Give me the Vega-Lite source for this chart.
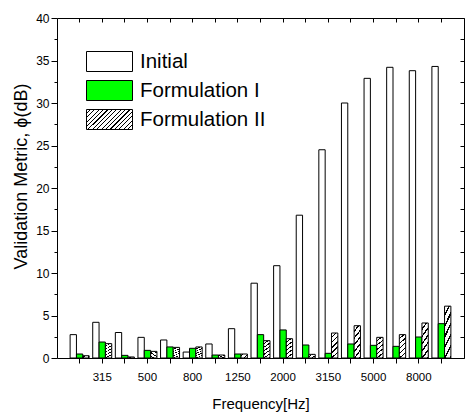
{
  "$schema": "https://vega.github.io/schema/vega-lite/v6.json",
  "autosize": {"type": "none"},
  "padding": {"left": 57, "top": 18, "right": 1, "bottom": 57},
  "width": 407,
  "height": 340,
  "background": "white",
  "config": {
    "view": {"stroke": null},
    "axis": {"grid": false, "domainColor": "black", "tickColor": "black", "labelColor": "black", "titleColor": "black", "labelFont": "Liberation Sans", "titleFont": "Liberation Sans", "titleFontWeight": "normal", "labelFontSize": 12, "titleFontSize": 15, "domainWidth": 1, "tickWidth": 1},
    "legend": {"labelFont": "Liberation Sans", "labelColor": "black", "labelFontSize": 20.5, "labelOffset": 20, "rowPadding": 4, "symbolType": "M-2.3,-1H2.3V1H-2.3Z", "symbolSize": 400, "symbolStrokeColor": "black", "symbolStrokeWidth": 1}
  },
  "data": {"values": [
    {"f": "250", "s": "Initial", "v": 2.75}, {"f": "250", "s": "Formulation I", "v": 0.47}, {"f": "250", "s": "Formulation II", "v": 0.27},
    {"f": "315", "s": "Initial", "v": 4.2}, {"f": "315", "s": "Formulation I", "v": 1.88}, {"f": "315", "s": "Formulation II", "v": 1.69},
    {"f": "400", "s": "Initial", "v": 3.0}, {"f": "400", "s": "Formulation I", "v": 0.31}, {"f": "400", "s": "Formulation II", "v": 0.12},
    {"f": "500", "s": "Initial", "v": 2.43}, {"f": "500", "s": "Formulation I", "v": 0.9}, {"f": "500", "s": "Formulation II", "v": 0.78},
    {"f": "630", "s": "Initial", "v": 2.12}, {"f": "630", "s": "Formulation I", "v": 1.3}, {"f": "630", "s": "Formulation II", "v": 1.25},
    {"f": "800", "s": "Initial", "v": 0.7}, {"f": "800", "s": "Formulation I", "v": 1.14}, {"f": "800", "s": "Formulation II", "v": 1.3},
    {"f": "1000", "s": "Initial", "v": 1.65}, {"f": "1000", "s": "Formulation I", "v": 0.35}, {"f": "1000", "s": "Formulation II", "v": 0.35},
    {"f": "1250", "s": "Initial", "v": 3.45}, {"f": "1250", "s": "Formulation I", "v": 0.47}, {"f": "1250", "s": "Formulation II", "v": 0.47},
    {"f": "1600", "s": "Initial", "v": 8.8}, {"f": "1600", "s": "Formulation I", "v": 2.75}, {"f": "1600", "s": "Formulation II", "v": 2.04},
    {"f": "2000", "s": "Initial", "v": 10.86}, {"f": "2000", "s": "Formulation I", "v": 3.3}, {"f": "2000", "s": "Formulation II", "v": 2.27},
    {"f": "2500", "s": "Initial", "v": 16.8}, {"f": "2500", "s": "Formulation I", "v": 1.53}, {"f": "2500", "s": "Formulation II", "v": 0.43},
    {"f": "3150", "s": "Initial", "v": 24.5}, {"f": "3150", "s": "Formulation I", "v": 0.55}, {"f": "3150", "s": "Formulation II", "v": 2.94},
    {"f": "4000", "s": "Initial", "v": 30.0}, {"f": "4000", "s": "Formulation I", "v": 1.65}, {"f": "4000", "s": "Formulation II", "v": 3.8},
    {"f": "5000", "s": "Initial", "v": 32.9}, {"f": "5000", "s": "Formulation I", "v": 1.49}, {"f": "5000", "s": "Formulation II", "v": 2.43},
    {"f": "6300", "s": "Initial", "v": 34.2}, {"f": "6300", "s": "Formulation I", "v": 1.37}, {"f": "6300", "s": "Formulation II", "v": 2.75},
    {"f": "8000", "s": "Initial", "v": 33.8}, {"f": "8000", "s": "Formulation I", "v": 2.47}, {"f": "8000", "s": "Formulation II", "v": 4.12},
    {"f": "10000", "s": "Initial", "v": 34.3}, {"f": "10000", "s": "Formulation I", "v": 4.04}, {"f": "10000", "s": "Formulation II", "v": 6.1}
  ]},
  "resolve": {"axis": {"x": "independent", "y": "independent"}},
  "layer": [
    {
      "mark": {"type": "bar", "stroke": "black", "strokeWidth": 1},
      "encoding": {
        "x": {"field": "f", "type": "nominal", "scale": {"domain": ["250","315","400","500","630","800","1000","1250","1600","2000","2500","3150","4000","5000","6300","8000","10000"], "paddingInner": 0.16, "paddingOuter": 0.58},
          "axis": {"orient": "bottom", "title": "Frequency[Hz]", "labelAngle": 0, "labelFontSize": 11.5, "tickSize": 5, "labelPadding": 8, "titlePadding": 14, "labelOverlap": false,
            "labelExpr": "indexof(['315','500','800','1250','2000','3150','5000','8000'], datum.value) >= 0 ? datum.label : ''"}},
        "xOffset": {"field": "s", "type": "nominal", "scale": {"domain": ["Initial", "Formulation I", "Formulation II"], "paddingInner": 0, "paddingOuter": 0}},
        "y": {"field": "v", "type": "quantitative", "scale": {"domain": [0, 40], "nice": false, "zero": true},
          "axis": {"orient": "left", "values": [0,5,10,15,20,25,30,35,40], "tickSize": 6, "labelPadding": 2, "title": "Validation Metric, ϕ(dB)", "titleFontSize": 18, "titlePadding": 5, "titleY": 158}},
        "fill": {"field": "s", "type": "nominal",
          "scale": {"domain": ["Initial", "Formulation I", "Formulation II"], "range": ["white", "#00ff00", "#bbbbbb"]},
          "condition": {"test": "datum.s === 'Formulation II'", "value": {"gradient": "linear", "x1": 0, "y1": 0, "x2": 0.294, "y2": 1.176, "stops": [
            {"offset": 0, "color": "white"}, {"offset": 0.1167, "color": "white"}, {"offset": 0.1167, "color": "black"}, {"offset": 0.1667, "color": "black"},
            {"offset": 0.1667, "color": "white"}, {"offset": 0.2833, "color": "white"}, {"offset": 0.2833, "color": "black"}, {"offset": 0.3333, "color": "black"},
            {"offset": 0.3333, "color": "white"}, {"offset": 0.45, "color": "white"}, {"offset": 0.45, "color": "black"}, {"offset": 0.5, "color": "black"},
            {"offset": 0.5, "color": "white"}, {"offset": 0.6167, "color": "white"}, {"offset": 0.6167, "color": "black"}, {"offset": 0.6667, "color": "black"},
            {"offset": 0.6667, "color": "white"}, {"offset": 0.7833, "color": "white"}, {"offset": 0.7833, "color": "black"}, {"offset": 0.8333, "color": "black"},
            {"offset": 0.8333, "color": "white"}, {"offset": 0.95, "color": "white"}, {"offset": 0.95, "color": "black"}, {"offset": 1, "color": "black"}
          ]}},
          "legend": {"orient": "none", "legendX": 42, "legendY": 33, "title": null, "values": ["Initial", "Formulation I"]}
        }
      }
    },
    {
      "transform": [{"filter": "false"}],
      "mark": {"type": "bar", "stroke": "black", "strokeWidth": 1, "fill": {"gradient": "linear", "x1": 0, "y1": 0, "x2": 1.207, "y2": 0.525, "stops": [
                {"offset": 0, "color": "white"}, {"offset": 0.05, "color": "white"}, {"offset": 0.05, "color": "black"}, {"offset": 0.0667, "color": "black"},
                {"offset": 0.0667, "color": "white"}, {"offset": 0.1167, "color": "white"}, {"offset": 0.1167, "color": "black"}, {"offset": 0.1333, "color": "black"},
                {"offset": 0.1333, "color": "white"}, {"offset": 0.1833, "color": "white"}, {"offset": 0.1833, "color": "black"}, {"offset": 0.2, "color": "black"},
                {"offset": 0.2, "color": "white"}, {"offset": 0.25, "color": "white"}, {"offset": 0.25, "color": "black"}, {"offset": 0.2667, "color": "black"},
                {"offset": 0.2667, "color": "white"}, {"offset": 0.3167, "color": "white"}, {"offset": 0.3167, "color": "black"}, {"offset": 0.3333, "color": "black"},
                {"offset": 0.3333, "color": "white"}, {"offset": 0.3833, "color": "white"}, {"offset": 0.3833, "color": "black"}, {"offset": 0.4, "color": "black"},
                {"offset": 0.4, "color": "white"}, {"offset": 0.45, "color": "white"}, {"offset": 0.45, "color": "black"}, {"offset": 0.4667, "color": "black"},
                {"offset": 0.4667, "color": "white"}, {"offset": 0.5167, "color": "white"}, {"offset": 0.5167, "color": "black"}, {"offset": 0.5333, "color": "black"},
                {"offset": 0.5333, "color": "white"}, {"offset": 0.5833, "color": "white"}, {"offset": 0.5833, "color": "black"}, {"offset": 0.6, "color": "black"},
                {"offset": 0.6, "color": "white"}, {"offset": 0.65, "color": "white"}, {"offset": 0.65, "color": "black"}, {"offset": 0.6667, "color": "black"},
                {"offset": 0.6667, "color": "white"}, {"offset": 0.7167, "color": "white"}, {"offset": 0.7167, "color": "black"}, {"offset": 0.7333, "color": "black"},
                {"offset": 0.7333, "color": "white"}, {"offset": 0.7833, "color": "white"}, {"offset": 0.7833, "color": "black"}, {"offset": 0.8, "color": "black"},
                {"offset": 0.8, "color": "white"}, {"offset": 0.85, "color": "white"}, {"offset": 0.85, "color": "black"}, {"offset": 0.8667, "color": "black"},
                {"offset": 0.8667, "color": "white"}, {"offset": 0.9167, "color": "white"}, {"offset": 0.9167, "color": "black"}, {"offset": 0.9333, "color": "black"},
                {"offset": 0.9333, "color": "white"}, {"offset": 0.9833, "color": "white"}, {"offset": 0.9833, "color": "black"}, {"offset": 1, "color": "black"}
              ]}},
      "encoding": {
        "x": {"field": "f", "type": "nominal", "axis": null},
        "y": {"field": "v", "type": "quantitative", "axis": null},
        "stroke": {"field": "s", "type": "nominal", "scale": {"domain": ["Formulation II"], "range": ["black"]},
          "legend": {"orient": "none", "legendX": 42, "legendY": 91, "title": null}}
      }
    },
    {
      "mark": {"type": "bar", "opacity": 0},
      "encoding": {
        "x": {"field": "f", "type": "nominal", "axis": {"orient": "top", "title": null, "labels": false, "tickSize": -4, "domain": true}},
        "y": {"field": "v", "type": "quantitative", "axis": {"orient": "left", "title": null, "labels": false, "domain": false, "tickSize": 3, "values": [2.5,7.5,12.5,17.5,22.5,27.5,32.5,37.5]}}
      }
    },
    {
      "mark": {"type": "bar", "opacity": 0},
      "encoding": {
        "x": {"field": "f", "type": "nominal", "axis": null},
        "y": {"field": "v", "type": "quantitative", "axis": {"orient": "right", "title": null, "labels": false, "domain": true, "tickSize": -4, "values": [0,2.5,5,7.5,10,12.5,15,17.5,20,22.5,25,27.5,30,32.5,35,37.5,40]}}
      }
    }
  ]
}
